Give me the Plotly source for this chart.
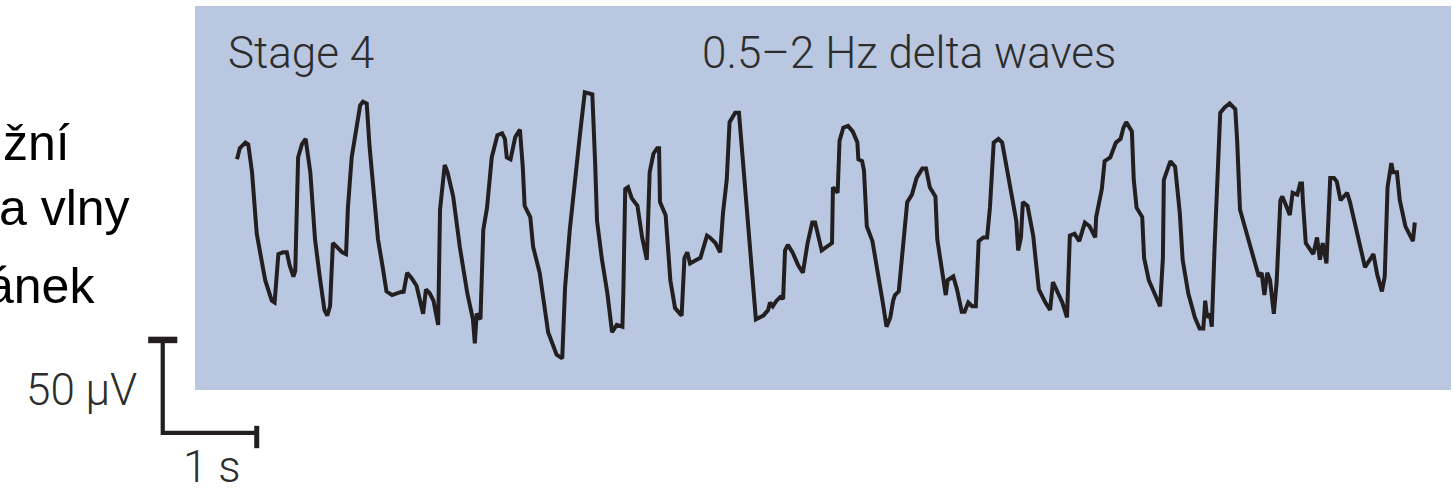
import plotly.graph_objects as go

# EEG trace, stage 4 sleep: time in seconds, amplitude in microvolts
time_s = [
    0.00, 0.03, 0.09, 0.12, 0.16, 0.21, 0.30, 0.37, 0.40, 0.44, 0.49, 0.53, 0.56, 0.60, 0.62,
    0.65, 0.69, 0.73, 0.78, 0.83, 0.88, 0.93, 0.96, 0.99, 1.02, 1.12, 1.16, 1.18, 1.22, 1.28,
    1.31, 1.34, 1.38, 1.41, 1.45, 1.50, 1.55, 1.59, 1.65, 1.70, 1.76, 1.77, 1.81, 1.86, 1.91,
    1.98, 2.01, 2.05, 2.09, 2.14, 2.16, 2.21, 2.24, 2.30, 2.37, 2.45, 2.51, 2.53, 2.55, 2.59,
    2.62, 2.66, 2.71, 2.77, 2.82, 2.85, 2.87, 2.91, 2.96, 3.01, 3.04, 3.06, 3.12, 3.15, 3.22,
    3.31, 3.40, 3.46, 3.49, 3.54, 3.60, 3.65, 3.70, 3.78, 3.81, 3.83, 3.88, 3.94, 3.99, 4.04,
    4.10, 4.11, 4.13, 4.16, 4.20, 4.26, 4.31, 4.36, 4.39, 4.43, 4.47, 4.49, 4.50, 4.56, 4.61,
    4.66, 4.73, 4.76, 4.79, 4.82, 4.89, 4.93, 5.00, 5.03, 5.09, 5.14, 5.17, 5.21, 5.24, 5.30,
    5.34, 5.37, 5.43, 5.48, 5.52, 5.60, 5.65, 5.67, 5.70, 5.74, 5.78, 5.81, 5.83, 5.86, 5.91,
    5.97, 6.02, 6.07, 6.12, 6.15, 6.18, 6.22, 6.33, 6.34, 6.39, 6.41, 6.45, 6.50, 6.55, 6.60,
    6.61, 6.65, 6.67, 6.70, 6.76, 6.82, 6.87, 6.91, 6.95, 6.98, 7.00, 7.04, 7.09, 7.13, 7.18,
    7.23, 7.29, 7.33, 7.37, 7.43, 7.45, 7.50, 7.54, 7.56, 7.62, 7.66, 7.71, 7.74, 7.78, 7.82,
    7.86, 7.89, 7.94, 7.98, 8.01, 8.05, 8.10, 8.14, 8.19, 8.24, 8.29, 8.31, 8.34, 8.36, 8.41,
    8.47, 8.53, 8.60, 8.65, 8.68, 8.72, 8.78, 8.83, 8.86, 8.91, 8.96, 9.02, 9.07, 9.13, 9.14,
    9.20, 9.23, 9.29, 9.32, 9.35, 9.40, 9.43, 9.46, 9.52, 9.54, 9.57, 9.63, 9.65, 9.70, 9.77,
    9.82, 9.85, 9.86, 9.93, 9.98, 10.03, 10.06, 10.12, 10.19, 10.24, 10.28, 10.30, 10.32, 10.35, 10.37,
    10.40, 10.44, 10.46, 10.51, 10.56, 10.62, 10.64, 10.67, 10.72, 10.80, 10.87, 10.90, 10.93, 10.96, 10.99,
    11.03, 11.06, 11.10, 11.12, 11.17, 11.20, 11.23, 11.28, 11.31, 11.33, 11.34, 11.37, 11.45, 11.49, 11.52,
    11.55, 11.59, 11.63, 11.67, 11.70, 11.74, 11.81, 11.84, 11.91, 12.00, 12.09, 12.13, 12.18, 12.21, 12.24,
    12.28, 12.30, 12.34, 12.37, 12.43, 12.51, 12.53,
]
amplitude_uv = [
    38, 44, 47, 46, 31, -2, -27, -38, -39, -13, -12, -12, -19, -25, -22,
    39, 46, 49, 31, -5, -25, -43, -46, -41, -7, -12, -13, 12, 39, 58,
    67, 69, 68, 45, 22, -5, -20, -33, -35, -34, -33, -34, -23, -26, -30,
    -45, -32, -34, -38, -51, 11, 35, 31, 18, -9, -34, -48, -61, -45, -48,
    0, 12, 39, 51, 52, 49, 39, 38, 50, 54, 34, 13, 7, -9, -23,
    -55, -67, -69, -31, 0, 31, 52, 74, 73, 36, 5, -15, -34, -55, -51,
    -52, -34, 22, 23, 17, 13, -4, -16, 31, 41, 44, 44, 15, 8, -27,
    -42, -46, -15, -12, -18, -16, -15, -3, -4, -7, -12, 9, 27, 58, 63,
    63, 45, 9, -27, -48, -46, -43, -39, -41, -38, -36, -37, -11, -8, -12,
    -19, -23, -7, 4, 4, -2, -11, -7, 23, 20, 48, 55, 56, 53, 47,
    38, 37, 32, 2, -6, -23, -39, -52, -47, -38, -35, -33, -4, 15, 19,
    28, 33, 33, 23, 18, -5, -20, -35, -27, -25, -32, -44, -44, -39, -41,
    -41, -6, -4, -4, 12, 47, 49, 47, 32, 20, 5, -11, -4, 15, 13,
    -3, -32, -39, -43, -28, -32, -39, -47, -3, -2, -6, 4, 2, -4, 7,
    22, 37, 39, 43, 47, 49, 55, 58, 53, 27, 12, 7, -15, -27, -36,
    -41, -15, 27, 37, 34, 9, -16, -34, -47, -53, -53, -38, -47, -45, -52,
    -9, 41, 63, 66, 68, 65, 48, 11, 2, -11, -25, -23, -35, -23, -27,
    -45, -28, 16, 18, 12, 8, 20, 19, 25, 25, 15, -7, -13, -4, -16,
    -7, -18, 28, 28, 26, 16, 20, 15, 0, -20, -13, -24, -33, -25, 23,
    36, 31, 31, 16, 2, -6, 4,
]

# Calibration bar: 1 s horizontally, 50 µV vertically
scale_time_s = 1.0
scale_amp_uv = 50.0
scale_origin = (-0.79, -109.1)

title_left = "Stage 4"
title_right = "0.5\u20132 Hz delta waves"
side_lines = ["žní", "a vlny", "ánek"]

W, H = 1454, 491
INK = "#231f20"
TEXT = "#2d2d2d"
PANEL = "#b9c8e0"

fig = go.Figure()

fig.add_trace(go.Scatter(
    x=time_s, y=amplitude_uv, mode="lines",
    line=dict(color=INK, width=4.0), hoverinfo="skip", showlegend=False,
))

# calibration bar (L shape)
x0, y0 = scale_origin
fig.add_trace(go.Scatter(
    x=[x0, x0, x0 + scale_time_s], y=[y0 + scale_amp_uv, y0, y0],
    mode="lines", line=dict(color=INK, width=4.2), hoverinfo="skip", showlegend=False,
))
# end caps of the calibration bar
fig.add_trace(go.Scatter(
    x=[x0 - 0.155, x0 + 0.155], y=[y0 + scale_amp_uv, y0 + scale_amp_uv],
    mode="lines", line=dict(color=INK, width=6.5), hoverinfo="skip", showlegend=False,
))
fig.add_trace(go.Scatter(
    x=[x0 + scale_time_s, x0 + scale_time_s], y=[y0 + 3.8, y0 - 8.2],
    mode="lines", line=dict(color=INK, width=5), hoverinfo="skip", showlegend=False,
))


def px(x):
    return x / W


def py(y):
    return 1 - y / H


# shaded recording panel
fig.add_shape(type="rect", xref="paper", yref="paper",
              x0=px(195), x1=px(1451), y0=py(390), y1=py(6),
              fillcolor=PANEL, line=dict(width=0), layer="below")

label_font = dict(family="Roboto, 'Open Sans', sans-serif", size=44, color=TEXT, weight=300)
annotations = [
    dict(text=title_left, x=px(226), y=py(53), xanchor="left", yanchor="middle", font=label_font),
    dict(text=title_right, x=px(700), y=py(53), xanchor="left", yanchor="middle", font=label_font),
    dict(text="50 \u00b5V", x=px(139), y=py(390), xanchor="right", yanchor="middle", font=label_font),
    dict(text="1 s", x=px(211), y=py(467), xanchor="center", yanchor="middle", font=label_font),
]
side_font = dict(family="Liberation Sans, Arial, sans-serif", size=50, color="#000000")
for txt, xr, yc in zip(side_lines, [72, 132, 97], [143, 208, 286]):
    annotations.append(dict(text=txt, x=px(xr), y=py(yc), xanchor="right",
                            yanchor="middle", font=side_font))
for a in annotations:
    a.update(xref="paper", yref="paper", showarrow=False)

fig.update_layout(
    width=W, height=H,
    margin=dict(l=0, r=0, t=0, b=0),
    paper_bgcolor="white", plot_bgcolor="rgba(0,0,0,0)",
    xaxis=dict(range=[-237 / 94, (W - 237) / 94], visible=False, fixedrange=True),
    yaxis=dict(range=[-(H - 230) * 50 / 93, 230 * 50 / 93], visible=False, fixedrange=True),
    annotations=annotations,
)

fig.write_html("out.html")
